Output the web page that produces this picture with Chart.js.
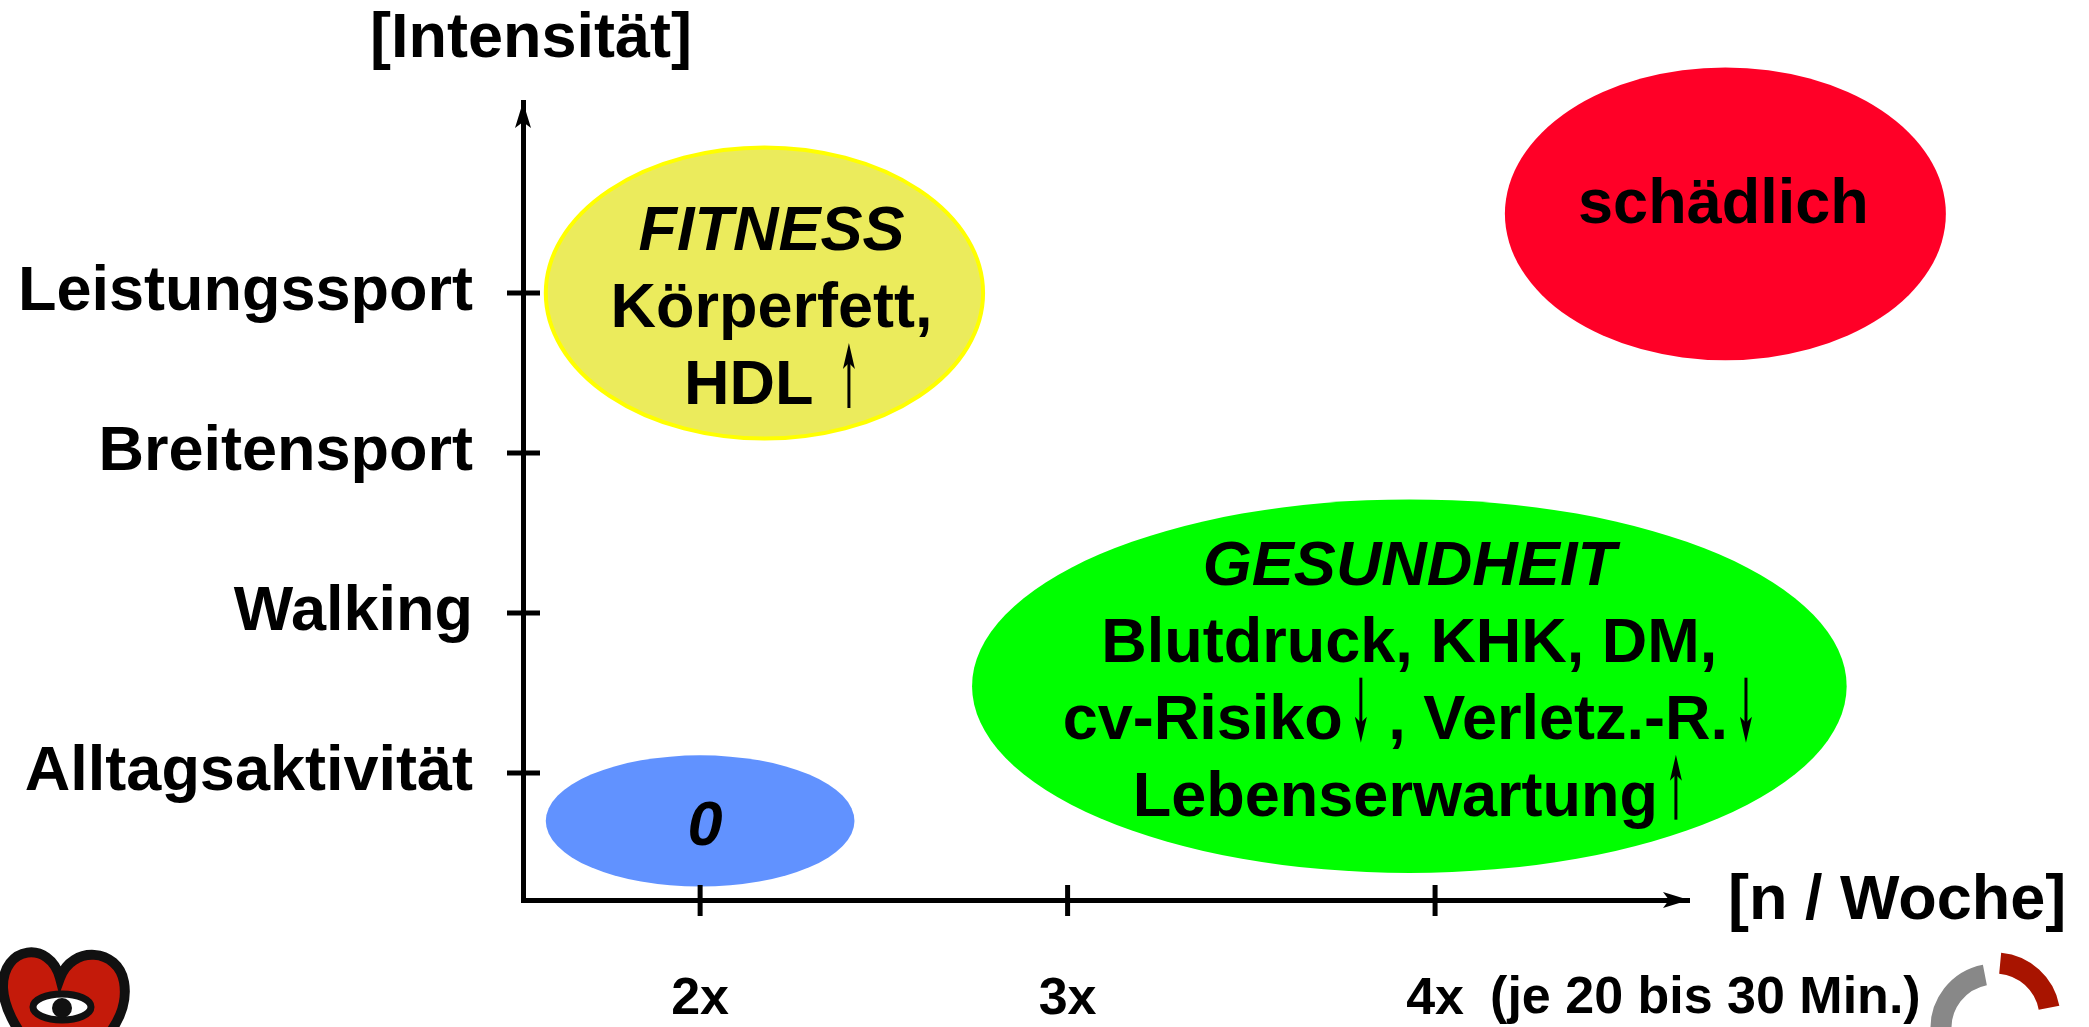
<!DOCTYPE html>
<html lang="de">
<head>
<meta charset="utf-8">
<title>Intensität / Häufigkeit</title>
<script src="https://cdn.jsdelivr.net/npm/chart.js@4.4.1/dist/chart.umd.min.js"></script>
<style>
    html, body { margin: 0; padding: 0; background: #fff; }
    #box { width: 2089px; height: 1027px; position: relative; }
</style>
</head>
<body>
<div id="box"><canvas id="grafik"></canvas></div>
<script>
// Achsen
const intensitaet = ["Alltagsaktivität", "Walking", "Breitensport", "Leistungssport"];
const intensitaetWerte = [1, 2, 3, 4];
const haeufigkeit = ["2x", "3x", "4x"];
const haeufigkeitWerte = [2, 3, 4];
const hinweis = "(je 20 bis 30 Min.)";

// Bereiche (Ausdehnung in Achseneinheiten)
const bereiche = ["FITNESS", "0", "GESUNDHEIT", "schädlich"];
const bereichX = [[1.58, 2.77], [1.58, 2.42], [2.74, 5.12], [4.19, 5.39]];
const bereichY = [[3.09, 4.91], [0.29, 1.11], [0.375, 2.71], [3.58, 5.41]];
const bereichTexte = [
    ["FITNESS", "Körperfett,", "HDL ↑"],
    ["0"],
    ["GESUNDHEIT", "Blutdruck, KHK, DM,", "cv-Risiko↓ , Verletz.-R.↓", "Lebenserwartung↑"],
    ["schädlich"]
];

// Stil
const fuellFarben = ["#ebeb5c", "#6192ff", "#00ff00", "#ff0027"];
const randFarben = ["#ffff00", null, null, null];
const ersteZeileKursiv = [true, true, true, false];
const textVersatz = [[7, 12], [5, 2], [0, -8], [-2, -13]];
const schrift = '"Liberation Sans", Arial, sans-serif';
const pfeilBreite = 28;

// dünner Pfeil wie im Original (Symbolzeichen)
function pfeil(ctx, x, y, nachOben) {
    const oben = y - 61, unten = y + 4;
    ctx.save();
    ctx.lineWidth = 3;
    ctx.beginPath();
    ctx.moveTo(x, nachOben ? oben + 18 : oben);
    ctx.lineTo(x, nachOben ? unten : unten - 18);
    ctx.stroke();
    ctx.beginPath();
    if (nachOben) {
        ctx.moveTo(x, oben); ctx.lineTo(x - 6, oben + 26); ctx.lineTo(x, oben + 20); ctx.lineTo(x + 6, oben + 26);
    } else {
        ctx.moveTo(x, unten); ctx.lineTo(x - 6, unten - 26); ctx.lineTo(x, unten - 20); ctx.lineTo(x + 6, unten - 26);
    }
    ctx.closePath();
    ctx.fill();
    ctx.restore();
}

function zeichneZeile(ctx, text, x, y, font) {
    const teile = text.split(/([↑↓])/).filter(t => t.length);
    ctx.font = font;
    const breiten = teile.map(t => /[↑↓]/.test(t) ? pfeilBreite : ctx.measureText(t).width);
    let pos = x - breiten.reduce((a, b) => a + b, 0) / 2;
    ctx.textAlign = "left";
    ctx.textBaseline = "alphabetic";
    teile.forEach((t, i) => {
        if (/[↑↓]/.test(t)) {
            pfeil(ctx, pos + 18, y, t === "↑");
        } else {
            ctx.fillText(t, pos, y);
        }
        pos += breiten[i];
    });
}

const bereichePlugin = {
    id: "bereiche",
    afterDatasetsDraw(chart) {
        const ctx = chart.ctx;
        const sx = chart.scales.x, sy = chart.scales.y;
        bereiche.forEach((name, i) => {
            const x0 = sx.getPixelForValue(bereichX[i][0]), x1 = sx.getPixelForValue(bereichX[i][1]);
            const y0 = sy.getPixelForValue(bereichY[i][1]), y1 = sy.getPixelForValue(bereichY[i][0]);
            const cx = (x0 + x1) / 2, cy = (y0 + y1) / 2;
            ctx.save();
            ctx.beginPath();
            ctx.ellipse(cx, cy, (x1 - x0) / 2, (y1 - y0) / 2, 0, 0, Math.PI * 2);
            ctx.fillStyle = fuellFarben[i];
            ctx.fill();
            if (randFarben[i]) {
                ctx.lineWidth = 4;
                ctx.strokeStyle = randFarben[i];
                ctx.stroke();
            }
            ctx.fillStyle = "#000";
            ctx.strokeStyle = "#000";
            const zeilen = bereichTexte[i];
            const lh = 77;
            zeilen.forEach((z, k) => {
                const kursiv = k === 0 && ersteZeileKursiv[i];
                const font = (kursiv ? "italic " : "") + "bold 63px " + schrift;
                const by = cy + textVersatz[i][1] + (k - (zeilen.length - 1) / 2) * lh + 22;
                zeichneZeile(ctx, z, cx + textVersatz[i][0], by, font);
            });
            ctx.restore();
        });
    },
    afterDraw(chart) {
        const ctx = chart.ctx;
        const a = chart.chartArea;
        const sx = chart.scales.x, sy = chart.scales.y;
        ctx.save();
        ctx.fillStyle = "#000";
        ctx.strokeStyle = "#000";
        ctx.lineWidth = 5;
        // Teilstriche quer über die Achsen
        sy.ticks.forEach(t => {
            const py = sy.getPixelForValue(t.value);
            ctx.beginPath(); ctx.moveTo(a.left - 16, py); ctx.lineTo(a.left + 17, py); ctx.stroke();
        });
        sx.ticks.forEach(t => {
            const px = sx.getPixelForValue(t.value);
            ctx.beginPath(); ctx.moveTo(px, a.bottom - 15); ctx.lineTo(px, a.bottom + 16); ctx.stroke();
        });
        // Pfeilspitzen
        ctx.beginPath();
        ctx.moveTo(a.left, a.top);
        ctx.lineTo(a.left - 8, a.top + 26);
        ctx.lineTo(a.left, a.top + 20);
        ctx.lineTo(a.left + 8, a.top + 26);
        ctx.closePath(); ctx.fill();
        ctx.beginPath();
        ctx.moveTo(a.right, a.bottom);
        ctx.lineTo(a.right - 26, a.bottom - 8);
        ctx.lineTo(a.right - 20, a.bottom);
        ctx.lineTo(a.right - 26, a.bottom + 8);
        ctx.closePath(); ctx.fill();
        // Achsentitel
        ctx.font = "bold 63px " + schrift;
        ctx.textBaseline = "middle";
        ctx.textAlign = "center";
        ctx.fillText("[Intensität]", a.left + 8, 40);
        ctx.textAlign = "left";
        ctx.fillText("[n / Woche]", a.right + 39, a.bottom + 2);
        ctx.font = "bold 52px " + schrift;
        ctx.fillText(hinweis, sx.getPixelForValue(4) + 55, a.bottom + 99);

        // Logo links
        ctx.beginPath();
        ctx.moveTo(60, 978);
        ctx.bezierCurveTo(50, 940, 2, 945, 3, 988);
        ctx.bezierCurveTo(4, 1010, 18, 1030, 28, 1045);
        ctx.lineTo(100, 1045);
        ctx.bezierCurveTo(118, 1025, 128, 1005, 124, 982);
        ctx.bezierCurveTo(118, 948, 72, 945, 60, 978);
        ctx.closePath();
        ctx.fillStyle = "#c41a0a"; ctx.fill();
        ctx.lineWidth = 10; ctx.strokeStyle = "#111"; ctx.stroke();
        ctx.beginPath();
        ctx.ellipse(62, 1007, 29, 13, 0, 0, Math.PI * 2);
        ctx.fillStyle = "#fff"; ctx.fill();
        ctx.lineWidth = 7; ctx.stroke();
        ctx.beginPath(); ctx.arc(62, 1008, 10, 0, Math.PI * 2);
        ctx.fillStyle = "#111"; ctx.fill();

        // Logo rechts
        ctx.lineWidth = 21;
        ctx.strokeStyle = "#888";
        ctx.beginPath(); ctx.arc(1995, 1028, 54, Math.PI * 0.98, Math.PI * 1.44); ctx.stroke();
        ctx.strokeStyle = "#a81400";
        ctx.beginPath(); ctx.arc(1995, 1018, 55, -Math.PI * 0.47, -Math.PI * 0.06); ctx.stroke();
        ctx.restore();
    }
};

const ctx = document.getElementById("grafik").getContext("2d");

new Chart(ctx, {
    type: "scatter",
    data: {
        datasets: bereiche.map((name, i) => ({
            label: name,
            data: [{ x: (bereichX[i][0] + bereichX[i][1]) / 2, y: (bereichY[i][0] + bereichY[i][1]) / 2 }],
            pointRadius: 0
        }))
    },
    plugins: [bereichePlugin],
    options: {
        responsive: true,
        maintainAspectRatio: false,
        animation: false,
        layout: { padding: { top: 102, right: 400, left: 0, bottom: 0 } },
        plugins: {
            legend: { display: false },
            tooltip: { enabled: false }
        },
        scales: {
            x: {
                type: "linear",
                min: 1.518,
                max: 4.691,
                afterBuildTicks: s => { s.ticks = haeufigkeitWerte.map(v => ({ value: v })); },
                afterFit: s => { s.height = 127; },
                grid: { drawOnChartArea: false, drawTicks: false },
                border: { display: true, color: "#000", width: 5 },
                ticks: {
                    callback: v => haeufigkeit[haeufigkeitWerte.indexOf(v)],
                    font: { family: schrift, size: 52, weight: "bold" },
                    color: "#000",
                    padding: 68,
                    maxRotation: 0,
                    autoSkip: false
                }
            },
            y: {
                type: "linear",
                min: 0.206,
                max: 5.194,
                afterBuildTicks: s => { s.ticks = intensitaetWerte.map(v => ({ value: v })); },
                afterFit: s => { s.width = 523; },
                grid: { drawOnChartArea: false, drawTicks: false },
                border: { display: true, color: "#000", width: 5 },
                ticks: {
                    callback: v => intensitaet[intensitaetWerte.indexOf(v)],
                    font: { family: schrift, size: 63, weight: "bold" },
                    color: "#000",
                    padding: 50,
                    autoSkip: false
                }
            }
        }
    }
});
</script>
</body>
</html>
